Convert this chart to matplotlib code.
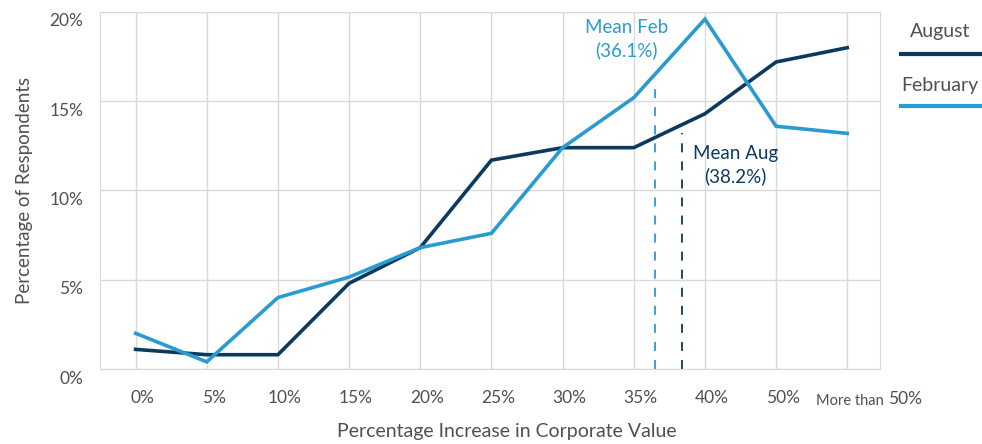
import matplotlib.pyplot as plt
import matplotlib.transforms as mtransforms
import numpy as np

# data
categories = ["0%", "5%", "10%", "15%", "20%", "25%", "30%", "35%", "40%", "50%", "More than 50%"]
august = [1.1, 0.8, 0.8, 4.8, 6.8, 11.7, 12.4, 12.4, 14.3, 17.2, 18.0]
february = [2.0, 0.4, 4.0, 5.15, 6.8, 7.6, 12.4, 15.2, 19.6, 13.6, 13.2]
mean_feb = 36.1
mean_aug = 38.2

c_aug = "#0b3a60"
c_feb = "#2a9bd1"
c_txt = "#505050"
c_grid = "#d9d9d9"

plt.rcParams['font.family'] = ['Lato', 'DejaVu Sans']


def mean_pos(m):
    # the mean sits between the 35% and 40% categories
    return 7 + (m - 35) / 5.0 * 0.9 + 0.1


fig = plt.figure(figsize=(9.82, 4.44), dpi=100)
ax = fig.add_axes([100 / 982, 75 / 444, 780 / 982, 357 / 444])

x = np.arange(len(categories))
ax.plot(x, august, color=c_aug, lw=2.6, solid_joinstyle='miter', zorder=3)
ax.plot(x, february, color=c_feb, lw=2.6, solid_joinstyle='miter', zorder=3)

# mean lines
ax.plot([mean_pos(mean_feb)] * 2, [0, 15.7], color=c_feb, lw=1.3, dashes=(5, 5), zorder=2)
ax.plot([mean_pos(mean_aug)] * 2, [0, 13.2], color=c_aug, lw=1.3, dashes=(5, 5), zorder=2)
ax.text(mean_pos(mean_feb) - 0.4, 18.5, "Mean Feb\n(36.1%)", color=c_feb, fontsize=13.5,
        ha='center', va='center', linespacing=1.35)
ax.text(mean_pos(mean_aug) + 0.75, 11.4, "Mean Aug\n(38.2%)", color=c_aug, fontsize=13.5,
        ha='center', va='center', linespacing=1.35)

ax.set_xlim(-0.5, 10.46)
ax.set_ylim(0, 20)
ax.set_yticks([0, 5, 10, 15, 20])
ax.set_yticklabels(["0%", "5%", "10%", "15%", "20%"])
ax.set_xticks(x)
ax.set_xticklabels(categories[:-1] + [""])
ax.tick_params(length=0, colors=c_txt, labelsize=12.5)
ax.tick_params(axis='x', pad=15)
ax.tick_params(axis='y', pad=12)
ax.grid(True, color=c_grid, lw=1)
ax.set_axisbelow(True)
for s in ax.spines.values():
    s.set_color(c_grid)

# tick labels sit a little off their gridlines in the reference
shift_x = mtransforms.ScaledTranslation(7 / 100, 0, fig.dpi_scale_trans)
shift_y = mtransforms.ScaledTranslation(0, -8 / 100, fig.dpi_scale_trans)
for lab in ax.get_xticklabels():
    lab.set_transform(lab.get_transform() + shift_x)
for lab in ax.get_yticklabels():
    lab.set_transform(lab.get_transform() + shift_y)

# last tick label has a smaller prefix
ax.annotate("More than", xy=(10, 0), xycoords=('data', 'axes fraction'),
            xytext=(26.5, -18), textcoords='offset points', ha='right', va='top',
            fontsize=10.5, color=c_txt)
ax.annotate("50%", xy=(10, 0), xycoords=('data', 'axes fraction'),
            xytext=(29, -16), textcoords='offset points', ha='left', va='top',
            fontsize=12.5, color=c_txt)

ax.set_xlabel("Percentage Increase in Corporate Value", color=c_txt, fontsize=14)
ax.xaxis.set_label_coords(0.522, -0.15)
ax.set_ylabel("Percentage of Respondents", color=c_txt, fontsize=13.5, labelpad=12)

# legend drawn at the right
fig.text(940 / 982, 1 - 32 / 444, "August", color=c_txt, fontsize=14, ha='center', va='center')
fig.add_artist(plt.Line2D([901 / 982, 980 / 982], [1 - 54 / 444] * 2, color=c_aug, lw=3))
fig.text(940 / 982, 1 - 86 / 444, "February", color=c_txt, fontsize=14, ha='center', va='center')
fig.add_artist(plt.Line2D([901 / 982, 980 / 982], [1 - 106 / 444] * 2, color=c_feb, lw=3))

fig.savefig("out.png", dpi=100)
